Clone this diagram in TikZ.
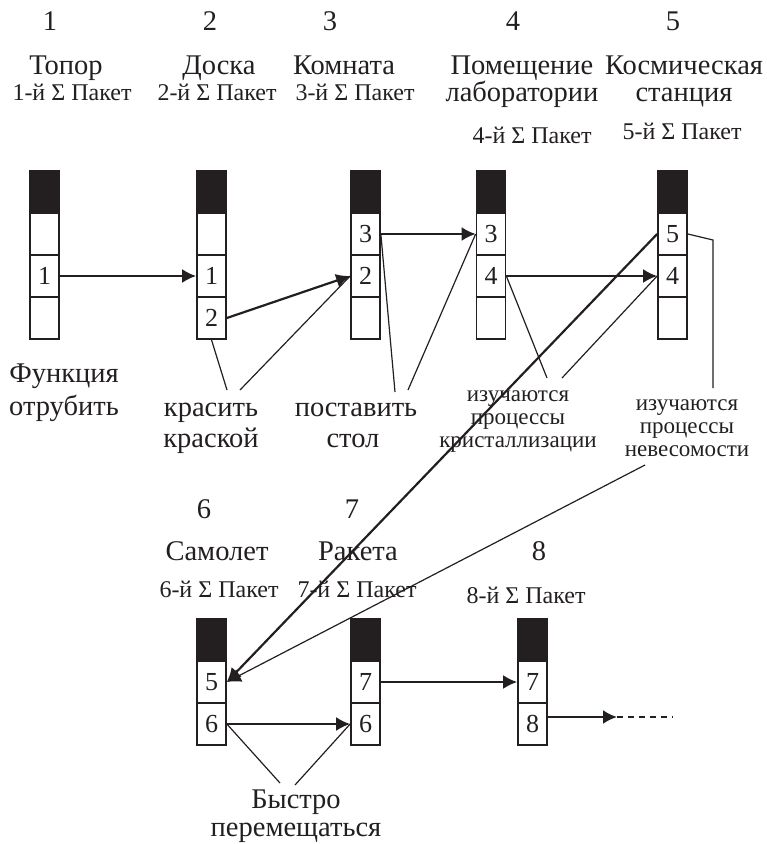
\documentclass[tikz,border=0pt]{standalone}
\usepackage{fontspec}
\setmainfont{Liberation Serif}
\usetikzlibrary{arrows.meta}
\definecolor{ink}{RGB}{35,31,32}

\begin{document}
\begin{tikzpicture}[x=1pt, y=-1pt,
            every node/.style={
                text=ink,
                inner sep=0pt
                },
            cell/.style={
                draw=ink,
                line width=1.7pt,
                minimum width=29pt,
                minimum height=42pt,
                font=\fontsize{26}{26}\selectfont
                },
            topcell/.style={cell, fill=ink},
            big/.style={anchor=base, font=\fontsize{28.5}{32}\selectfont},
            small/.style={anchor=base, font=\fontsize{24}{26}\selectfont},
            remark/.style={anchor=base, font=\fontsize{23}{24}\selectfont},
            >={Latex[length=14pt, width=14pt]},
            link/.style={draw=ink, line width=2.2pt, ->},
            note/.style={draw=ink, line width=1.2pt}]

        \useasboundingbox (0,0) rectangle (767,844);

        % upper row of packets
        \node[topcell] (p1) at (44.5,192) {};
        \node[cell] (p1a) at (44.5,234) {};
        \node[cell] (p1b) at (44.5,276) {1};
        \node[cell] (p1c) at (44.5,318) {};

        \node[topcell] (p2) at (211.5,192) {};
        \node[cell] (p2a) at (211.5,234) {};
        \node[cell] (p2b) at (211.5,276) {1};
        \node[cell] (p2c) at (211.5,318) {2};

        \node[topcell] (p3) at (365.5,192) {};
        \node[cell] (p3a) at (365.5,234) {3};
        \node[cell] (p3b) at (365.5,276) {2};
        \node[cell] (p3c) at (365.5,318) {};

        \node[topcell] (p4) at (491,192) {};
        \node[cell] (p4a) at (491,234) {3};
        \node[cell] (p4b) at (491,276) {4};
        \node[cell] (p4c) at (491,318) {};

        \node[topcell] (p5) at (672.5,192) {};
        \node[cell] (p5a) at (672.5,234) {5};
        \node[cell] (p5b) at (672.5,276) {4};
        \node[cell] (p5c) at (672.5,318) {};

        % lower row of packets
        \node[topcell] (q6) at (211.5,640) {};
        \node[cell] (q6a) at (211.5,682) {5};
        \node[cell] (q6b) at (211.5,724) {6};

        \node[topcell] (q7) at (365.5,640) {};
        \node[cell] (q7a) at (365.5,682) {7};
        \node[cell] (q7b) at (365.5,724) {6};

        \node[topcell] (q8) at (532.5,640) {};
        \node[cell] (q8a) at (532.5,682) {7};
        \node[cell] (q8b) at (532.5,724) {8};

        % headings
        \node[big] (n1) at (50,30) {1};
        \node[big] (n2) at (210,30) {2};
        \node[big] (n3) at (330,30) {3};
        \node[big] (n4) at (513,30) {4};
        \node[big] (n5) at (673,30) {5};

        \node[big] (axe)   at (66,74) {Топор};
        \node[big] (board) at (219,74) {Доска};
        \node[big] (room)  at (344,74) {Комната};
        \node[big] (lab1)  at (522,74) {Помещение};
        \node[big] (lab2)  at (522,101) {лаборатории};
        \node[big] (st1)   at (684,74) {Космическая};
        \node[big] (st2)   at (684,101) {станция};

        \node[small] (k1) at (72,100) {1-й Σ Пакет};
        \node[small] (k2) at (217,100) {2-й Σ Пакет};
        \node[small] (k3) at (355,100) {3-й Σ Пакет};
        \node[small] (k4) at (532,143) {4-й Σ Пакет};
        \node[small] (k5) at (682,139) {5-й Σ Пакет};

        \node[big] (n6) at (204,518) {6};
        \node[big] (n7) at (352,518) {7};
        \node[big] (n8) at (539,560) {8};

        \node[big] (plane)  at (217,560) {Самолет};
        \node[big] (rocket) at (358,560) {Ракета};

        \node[small] (k6) at (219,597) {6-й Σ Пакет};
        \node[small] (k7) at (357,597) {7-й Σ Пакет};
        \node[small] (k8) at (526,603) {8-й Σ Пакет};

        % functions
        \node[big] (chop1)  at (64,382) {Функция};
        \node[big] (chop2)  at (64,415) {отрубить};
        \node[big] (paint1) at (211,416) {красить};
        \node[big] (paint2) at (211,447) {краской};
        \node[big] (put1)   at (356,416) {поставить};
        \node[big] (put2)   at (353,447) {стол};
        \node[remark] (cry1) at (518,401) {изучаются};
        \node[remark] (cry2) at (518,424) {процессы};
        \node[remark] (cry3) at (518,447) {кристаллизации};
        \node[remark] (zg1)  at (687,410) {изучаются};
        \node[remark] (zg2)  at (687,433) {процессы};
        \node[remark] (zg3)  at (687,456) {невесомости};
        \node[big] (fast1)  at (296,808) {Быстро};
        \node[big] (fast2)  at (296,836) {перемещаться};

        \coordinate (paintL) at (227,390);
        \coordinate (paintR) at (240,390);
        \coordinate (putL)   at (395,392);
        \coordinate (putR)   at (408,390);
        \coordinate (cryL)   at (547,378);
        \coordinate (cryR)   at (562,378);
        \coordinate (zgA)    at (713,240);
        \coordinate (zgB)    at (713,388);
        \coordinate (zgC)    at (645,465);
        \coordinate (fastL)  at (280,783);
        \coordinate (fastR)  at (295,785);
        \coordinate (tail)   at (617,717);
        \coordinate (tailE)  at (673,717);

        % packet links
        \draw[link] (p1b.east) -- (p2b.west);
        \draw[link] (p2c.east) -- (p3b.west);
        \draw[link] (p3a.east) -- (p4a.west);
        \draw[link] (p4b.east) -- (p5b.west);
        \draw[link] (p5a.west) -- (q6a.east);
        \draw[link] (q6b.east) -- (q7b.west);
        \draw[link] (q7a.east) -- (q8a.west);
        \draw[link] ([yshift=7pt]q8b.east) -- (tail);
        \draw[draw=ink, line width=1.3pt, dash pattern=on 6pt off 5pt] (tail) -- (tailE);

        % function pointers
        \draw[note] (p2c.south) -- (paintL);
        \draw[note] (paintR) -- (p3b.west);
        \draw[note] (p3a.east) -- (putL);
        \draw[note] (putR) -- (p4a.west);
        \draw[note] (p4b.east) -- (cryL);
        \draw[note] (cryR) -- (p5b.west);
        \draw[note] (p5a.east) -- (zgA) -- (zgB);
        \draw[note, ->] (zgC) -- (q6a.east);
        \draw[note] (q6b.east) -- (fastL);
        \draw[note] (fastR) -- (q7b.west);

    \end{tikzpicture}
\end{document}
